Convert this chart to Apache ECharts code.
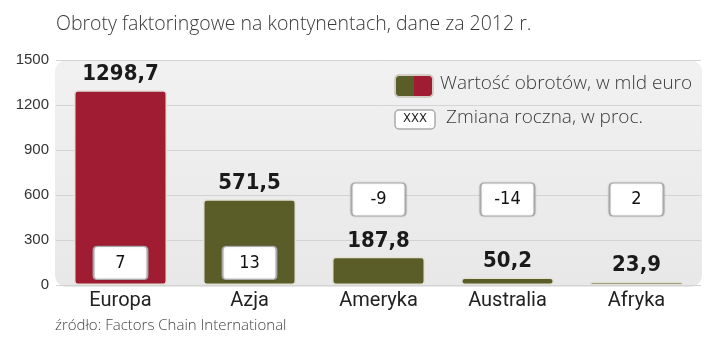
<!DOCTYPE html>
<html>
<head>
<meta charset="utf-8">
<script src="https://cdn.jsdelivr.net/npm/echarts@6/dist/echarts.min.js"></script>
<style>
  html, body { margin: 0; padding: 0; background: #fff; }
  #chart { width: 720px; height: 353px; }
</style>
</head>
<body>
<div id="chart"></div>
<script>
// dane
const continents = ['Europa', 'Azja', 'Ameryka', 'Australia', 'Afryka']
const turnover = [1298.7, 571.5, 187.8, 50.2, 23.9]
const yearlyChange = [7, 13, -9, -14, 2]
const barColors = ['#a01c33', '#5a5d28', '#5a5d28', '#5a5d28', '#5a5d28']
const yTicks = [0, 300, 600, 900, 1200, 1500]

const RED = '#a01c33'
const OLIVE = '#5a5d28'
const lightFont = '"Open Sans", "Liberation Sans", sans-serif'
const condFont = '"DejaVu Sans Condensed", "DejaVu Sans", sans-serif'

const fmt = v => String(v).replace('.', ',')

// boxes with the yearly change sit inside tall bars, above the short ones
const changePoints = yearlyChange.map((c, i) => [i, turnover[i] > 400 ? 147 : 570])

// white box with small rounded corners
const boxPath = 'path://M4,0 H50 Q54,0 54,4 V29 Q54,33 50,33 H4 Q0,33 0,29 V4 Q0,0 4,0 Z'

const chart = echarts.init(document.getElementById('chart'))

const option = {
    animation: false,
    grid: { left: 56, right: 19, top: 60, bottom: 68 },
    title: {
        text: 'Obroty faktoringowe na kontynentach, dane za 2012 r.',
        left: 51,
        top: 9,
        textStyle: { fontFamily: lightFont, fontWeight: 300, fontSize: 19.5, color: '#3a3a3a' }
    },
    xAxis: {
        type: 'category',
        data: continents,
        axisLine: { show: false },
        axisTick: { show: false },
        axisLabel: { fontFamily: 'Roboto, sans-serif', fontSize: 20, color: '#222', margin: 6 }
    },
    yAxis: {
        type: 'value',
        min: yTicks[0],
        max: yTicks[yTicks.length - 1],
        interval: 300,
        axisLabel: {
            fontFamily: '"Liberation Sans", Arial, sans-serif', fontSize: 15, color: '#333', margin: 7,
            formatter: v => String(v)
        },
        splitLine: { lineStyle: { color: '#d3d3d3', width: 1 } }
    },
    graphic: [
        {
            type: 'rect', z: -10, silent: true,
            shape: { x: 55, y: 60, width: 647, height: 227, r: 12 },
            style: {
                fill: new echarts.graphic.LinearGradient(0, 0, 0, 1, [
                    { offset: 0, color: '#f1f1f1' },
                    { offset: 1, color: '#e8e8e8' }
                ])
            }
        },
        // legenda
        {
            type: 'rect', z: 10,
            shape: { x: 396, y: 76, width: 18, height: 20, r: [3, 0, 0, 3] },
            style: { fill: OLIVE }
        },
        {
            type: 'rect', z: 10,
            shape: { x: 414, y: 76, width: 18, height: 20, r: [0, 3, 3, 0] },
            style: { fill: RED }
        },
        {
            type: 'rect', z: 11,
            shape: { x: 395, y: 75, width: 38, height: 22, r: 4 },
            style: { fill: 'none', stroke: '#c9c4b8', lineWidth: 1.5 }
        },
        {
            type: 'text', z: 10, left: 440, top: 74,
            style: { text: 'Wartość obrotów, w mld euro', font: '300 19px ' + lightFont, fill: '#3a3a3a' }
        },
        {
            type: 'rect', z: 10,
            shape: { x: 395, y: 110, width: 40, height: 19, r: 4 },
            style: { fill: '#fff', stroke: '#aaa', lineWidth: 1.5 }
        },
        {
            type: 'text', z: 11, left: 403, top: 112,
            style: { text: 'XXX', font: '13px ' + condFont, fill: '#222' }
        },
        {
            type: 'text', z: 10, left: 446, top: 108,
            style: { text: 'Zmiana roczna, w proc.', font: '300 19px ' + lightFont, fill: '#3a3a3a' }
        },
        // źródło
        {
            type: 'text', left: 55, top: 318,
            style: { text: 'źródło: Factors Chain International', font: '300 15px ' + lightFont, fill: '#444' }
        }
    ],
    series: [
        {
            type: 'bar',
            barWidth: 93,
            data: turnover.map((v, i) => ({ value: v, itemStyle: { color: barColors[i] } })),
            itemStyle: { borderColor: '#e4e1d6', borderWidth: 1.5, borderRadius: 3 },
            label: {
                show: true,
                position: 'top',
                distance: 5,
                formatter: p => fmt(p.value),
                fontFamily: condFont,
                fontWeight: 'bold',
                fontSize: 22,
                color: '#1a1a1a'
            }
        },
        {
            type: 'scatter',
            data: changePoints,
            symbol: boxPath,
            symbolSize: [54, 33],
            z: 5,
            itemStyle: {
                color: '#fff', opacity: 1, borderColor: '#a9a9a9', borderWidth: 1.5,
                shadowBlur: 2, shadowColor: 'rgba(0,0,0,0.15)'
            },
            label: {
                show: true,
                position: 'inside',
                formatter: p => String(yearlyChange[p.dataIndex]),
                fontFamily: condFont,
                fontSize: 18,
                color: '#111'
            }
        }
    ]
}

chart.setOption(option)
</script>
</body>
</html>
